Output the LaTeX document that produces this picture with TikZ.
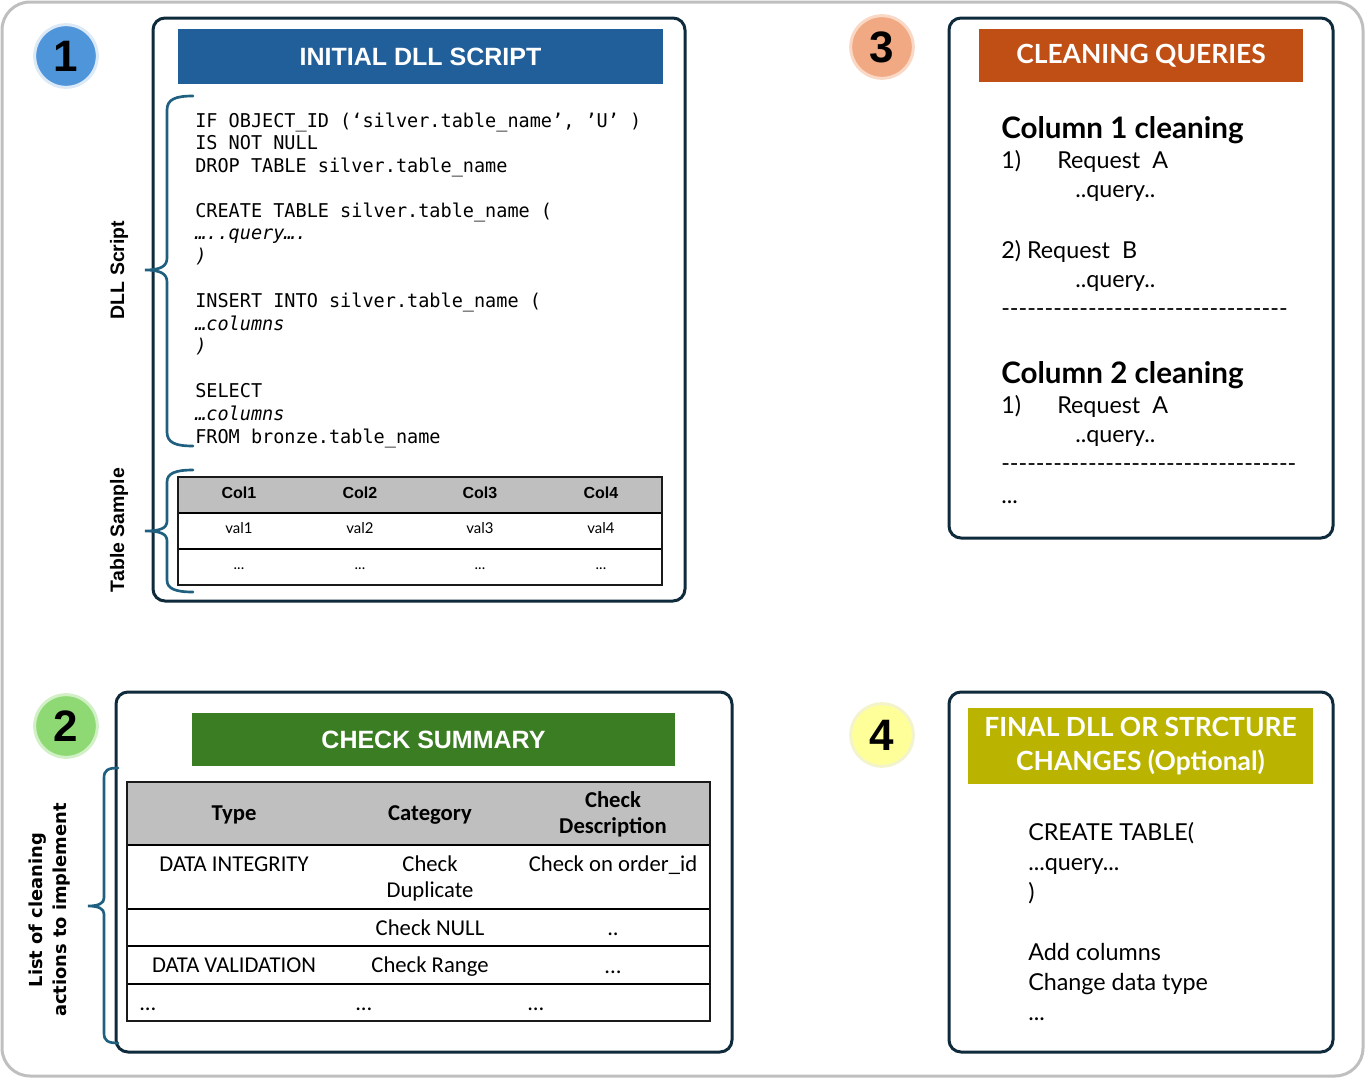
\documentclass[tikz,border=0pt]{standalone}
\usepackage{fontspec}
\setmainfont{Liberation Sans}
\newfontfamily\arialf{Liberation Sans}
\newfontfamily\aptosf{Lato}
\newfontfamily\narrowf{Carlito}
\newfontfamily\codef[FakeStretch=0.975]{DejaVu Sans Mono}
\newfontfamily\verdf{DejaVu Sans}
\definecolor{framegray}{HTML}{BFBFBF}
\definecolor{navy}{HTML}{0E2A3B}
\definecolor{barblue}{HTML}{215F9A}
\definecolor{bargreen}{HTML}{3B7D23}
\definecolor{barorange}{HTML}{C04F15}
\definecolor{barolive}{HTML}{BAB400}
\definecolor{bracecol}{HTML}{1F5F7F}
\definecolor{hdrgray}{HTML}{BFBFBF}
\definecolor{tblline}{HTML}{1A1A1A}
\definecolor{cblue}{HTML}{4E95D9}
\definecolor{cbluering}{HTML}{DCE9F6}
\definecolor{cgreen}{HTML}{8ED973}
\definecolor{cgreenring}{HTML}{D2F0C6}
\definecolor{corange}{HTML}{F1A983}
\definecolor{corangering}{HTML}{FAD8C6}
\definecolor{cyellow}{HTML}{FFFF99}
\definecolor{cyellowring}{HTML}{F4F4CC}
\tikzset{
  frame/.style={draw=framegray, line width=2.25pt, rounded corners=21pt},
  panel/.style={draw=navy, line width=2.25pt, rounded corners=9pt},
  numcirc/.style={circle, minimum size=47pt, inner sep=0pt, line width=2.25pt,
    font=\arialf\bfseries\fontsize{33}{33}\selectfont},
  titlebar/.style={inner sep=0pt, text=white, align=center},
  brace/.style={draw=bracecol, line width=2pt, line cap=round},
  codeln/.style={anchor=base west, inner sep=0pt, font=\codef\fontsize{14.25}{17}\selectfont},
  codeit/.style={codeln, font=\codef\itshape\fontsize{14.25}{17}\selectfont},
  sidelbl/.style={rotate=90, inner sep=0pt, font=\arialf\bfseries\fontsize{14.6}{16}\selectfont},
  thead/.style={anchor=base, inner sep=0pt, font=\arialf\bfseries\fontsize{12}{13}\selectfont},
  tval/.style={anchor=base, inner sep=0pt, font=\aptosf\fontsize{11.2}{12}\selectfont},
  touter/.style={draw=tblline, line width=2.2pt},
  tinner/.style={draw=black, line width=1.9pt},
  qhead/.style={anchor=base west, inner sep=0pt, font=\aptosf\bfseries\fontsize{22.2}{24}\selectfont},
  qtxt/.style={anchor=base west, inner sep=0pt, font=\aptosf\fontsize{17.5}{20}\selectfont},
  chead/.style={anchor=base, inner sep=0pt, font=\narrowf\bfseries\fontsize{17}{19}\selectfont},
  ctxt/.style={anchor=base, inner sep=0pt, font=\narrowf\fontsize{17}{19}\selectfont},
}
\begin{document}
\begin{tikzpicture}[x=0.75pt,y=-0.75pt]
\useasboundingbox (0,0) rectangle (1365,1078);
% outer frame
\draw[frame] (2,2) rectangle (1363,1076);

% ---------------- Panel 1 ----------------
\node[numcirc, fill=cblue, draw=cbluering] (n1) at (66,56) {1};
\draw[panel] (153,18) rectangle (685,601);
\node[titlebar, fill=barblue, minimum width=363.75pt, minimum height=41.25pt,
  font=\arialf\bfseries\fontsize{18.75}{20}\selectfont] (t1) at (420.5,56.5) {INITIAL DLL SCRIPT};

\node[codeln] (c1) at (195,127) {IF OBJECT\_ID (‘silver.table\_name’, ’U’ )};
\node[codeln] (c2) at (195,149.6) {IS NOT NULL};
\node[codeln] (c3) at (195,172.1) {DROP TABLE silver.table\_name};
\node[codeln] (c5) at (195,217.3) {CREATE TABLE silver.table\_name (};
\node[codeit] (c6) at (195,239.8) {…..query….};
\node[codeit] (c7) at (195,262.4) {)};
\node[codeln] (c9) at (195,307.5) {INSERT INTO silver.table\_name (};
\node[codeit] (c10) at (195,330.1) {…columns};
\node[codeit] (c11) at (195,352.7) {)};
\node[codeln] (c13) at (195,397.8) {SELECT};
\node[codeit] (c14) at (195,420.4) {…columns};
\node[codeln] (c15) at (195,443) {FROM bronze.table\_name};

% braces panel 1
\draw[brace] (193,96) .. controls (176,96) and (167,99) .. (167,110) -- (167,258)
  .. controls (167,266) and (161,270) .. (145,270)
  .. controls (161,270) and (167,274) .. (167,282) -- (167,432)
  .. controls (167,443) and (176,446) .. (193,446);
\draw[brace] (193,470) .. controls (176,470) and (167,473) .. (167,482) -- (167,521)
  .. controls (167,528) and (161,531) .. (145,531)
  .. controls (161,531) and (167,534) .. (167,541) -- (167,580)
  .. controls (167,589) and (176,592) .. (193,592);
\node[sidelbl] (lbl1) at (119,270) {DLL Script};
\node[sidelbl] (lbl2) at (119,530) {Table Sample};

% table sample
\fill[hdrgray] (178,477) rectangle (662,513);
\draw[tinner] (178,513) -- (662,513);
\draw[tinner] (178,549) -- (662,549);
\draw[touter] (178,477) rectangle (662,585);
\node[thead] (h1) at (239,498.5) {Col1};
\node[thead] (h2) at (360,498.5) {Col2};
\node[thead] (h3) at (480,498.5) {Col3};
\node[thead] (h4) at (601,498.5) {Col4};
\node[tval] (v1) at (239,533) {val1};
\node[tval] (v2) at (360,533) {val2};
\node[tval] (v3) at (480,533) {val3};
\node[tval] (v4) at (601,533) {val4};
\node[tval] (e1) at (239,569) {...};
\node[tval] (e2) at (360,569) {...};
\node[tval] (e3) at (480,569) {...};
\node[tval] (e4) at (601,569) {...};

% ---------------- Panel 2 ----------------
\node[numcirc, fill=cgreen, draw=cgreenring] (n2) at (66,726) {2};
\draw[panel] (116,692) rectangle (732,1052);
\node[titlebar, fill=bargreen, minimum width=362.25pt, minimum height=39.75pt,
  font=\arialf\bfseries\fontsize{18.75}{20}\selectfont] (t2) at (433.5,739.5) {CHECK SUMMARY};

\draw[brace] (118,768) .. controls (108,768) and (104,770) .. (104,778) -- (104,898)
  .. controls (104,903) and (99,906) .. (88,906)
  .. controls (99,906) and (104,909) .. (104,914) -- (104,1033)
  .. controls (104,1041) and (108,1043) .. (118,1043);
\node[rotate=90, inner sep=0pt, align=center,
  font=\verdf\bfseries\fontsize{13.4}{18}\selectfont] (lbl3) at (50,910) {List of cleaning\\actions to implement};

\fill[hdrgray] (127,782) rectangle (710,845);
\draw[tinner] (127,845) -- (710,845);
\draw[tinner] (127,909) -- (710,909);
\draw[tinner] (127,946) -- (710,946);
\draw[tinner] (127,984) -- (710,984);
\draw[touter] (127,782) rectangle (710,1021);
\node[chead] (ch1) at (234,820) {Type};
\node[chead] (ch2) at (430,820) {Category};
\node[chead] (ch3) at (613,807) {Check};
\node[chead] (ch3b) at (613,833) {Description};
\node[ctxt] (r1a) at (234,871) {DATA INTEGRITY};
\node[ctxt] (r1b) at (430,871) {Check};
\node[ctxt] (r1c) at (430,897) {Duplicate};
\node[ctxt] (r1d) at (613,871) {Check on order\_id};
\node[ctxt] (r2b) at (430,935) {Check NULL};
\node[ctxt] (r2c) at (613,935) {..};
\node[ctxt] (r3a) at (234,972) {DATA VALIDATION};
\node[ctxt] (r3b) at (430,972) {Check Range};
\node[ctxt] (r3c) at (613,973) {...};
\node[ctxt, anchor=base west] (r4a) at (139,1010) {...};
\node[ctxt, anchor=base west] (r4b) at (355,1010) {...};
\node[ctxt, anchor=base west] (r4c) at (527,1010) {...};

% ---------------- Panel 3 ----------------
\node[numcirc, fill=corange, draw=corangering] (n3) at (882,47) {3};
\draw[panel] (949,18) rectangle (1333,538);
\node[titlebar, fill=barorange, minimum width=243pt, minimum height=39.75pt,
  font=\aptosf\bfseries\fontsize{19.8}{21}\selectfont] (t3) at (1141,55.5) {CLEANING QUERIES};

\node[qhead] (q1) at (1001,138) {Column 1 cleaning};
\node[qtxt] (q2) at (1001,168) {1)};
\node[qtxt] (q3) at (1057,168) {Request~ A};
\node[qtxt] (q4) at (1075,197) {..query..};
\node[qtxt] (q5) at (1001,258) {2) Request~ B};
\node[qtxt] (q6) at (1075,287) {..query..};
\node[qtxt] (q7) at (1001,316) {---------------------------------};
\node[qhead] (q8) at (1001,383) {Column 2 cleaning};
\node[qtxt] (q9) at (1001,413) {1)};
\node[qtxt] (q10) at (1057,413) {Request~ A};
\node[qtxt] (q11) at (1075,442) {..query..};
\node[qtxt] (q12) at (1001,471) {----------------------------------};
\node[qtxt] (q13) at (1001,503) {...};

% ---------------- Panel 4 ----------------
\node[numcirc, fill=cyellow, draw=cyellowring] (n4) at (882,735) {4};
\draw[panel] (949,692) rectangle (1333,1052);
\node[titlebar, fill=barolive, minimum width=258.75pt, minimum height=57pt,
  font=\aptosf\bfseries\fontsize{19.8}{25.5}\selectfont] (t4) at (1140.5,746) {FINAL DLL OR STRCTURE\\CHANGES (Optional)};

\node[qtxt] (f1) at (1028,840) {CREATE TABLE(};
\node[qtxt] (f2) at (1028,870) {...query...};
\node[qtxt] (f3) at (1028,900) {)};
\node[qtxt] (f4) at (1028,960) {Add columns};
\node[qtxt] (f5) at (1028,990) {Change data type};
\node[qtxt] (f6) at (1028,1020) {...};
\end{tikzpicture}
\end{document}
